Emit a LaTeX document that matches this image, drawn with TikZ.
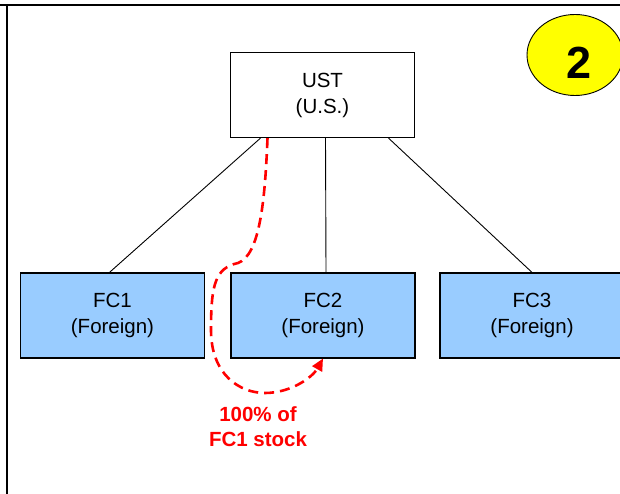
\documentclass[tikz,border=0pt]{standalone}
\usepackage{fontspec}
\setmainfont{Liberation Sans}
\usetikzlibrary{arrows.meta}

\definecolor{fcblue}{HTML}{99CCFF}
\definecolor{badgeyellow}{HTML}{FFFF00}

\tikzset{
    entity/.style={draw,line width=1.2pt,minimum width=184pt,minimum height=85pt,inner sep=0pt,
        align=center,font=\fontsize{20.5}{26}\selectfont},
    foreign/.style={entity,fill=fcblue},
    link/.style={line width=0.9pt},
    transfer/.style={red,line width=2.6pt,dash pattern=on 10pt off 6pt,
        -{Triangle[length=12pt,width=11pt]}},
    note/.style={red,align=center,font=\fontsize{20.5}{25}\selectfont\bfseries}
}

\begin{document}
\begin{tikzpicture}[x=1pt,y=-1pt]
            \useasboundingbox (0,0) rectangle (620,494);
            \draw[line width=2pt] (0,5) -- (620,5);
            \draw[line width=2pt] (7,5) -- (7,494);

            \draw[fill=badgeyellow,line width=0.9pt] (575,55) ellipse (48 and 40.5);
            \node[font=\fontsize{45}{50}\selectfont\bfseries] (step2) at (579,63) {2};

            \node[entity] (ust) at (322.5,95) {UST\\(U.S.)};
            \node[foreign] (fc1) at (112.5,315.5) {FC1\\(Foreign)};
            \node[foreign] (fc2) at (323,315.5) {FC2\\(Foreign)};
            \node[foreign] (fc3) at (532,315.5) {FC3\\(Foreign)};

            \draw[link] ([xshift=-62pt]ust.south) -- ([xshift=-3pt]fc1.north);
            \draw[link] ([xshift=3pt]ust.south) -- ([xshift=3pt]fc2.north);
            \draw[link] ([xshift=66pt]ust.south) -- (fc3.north);

            \coordinate (bend) at (238,263);
            \coordinate (low) at (211,330);
            \coordinate (bottom) at (265,393);
            \draw[transfer] ([xshift=-55pt]ust.south)
                .. controls (265,200) and (260,255) .. (bend)
                .. controls (215,268) and (211,285) .. (low)
                .. controls (211,375) and (240,393) .. (bottom)
                .. controls (290,393) and (312,378) .. (fc2.south);

            \node[note] (share) at (258,427) {100\% of\\FC1 stock};
        \end{tikzpicture}
\end{document}
